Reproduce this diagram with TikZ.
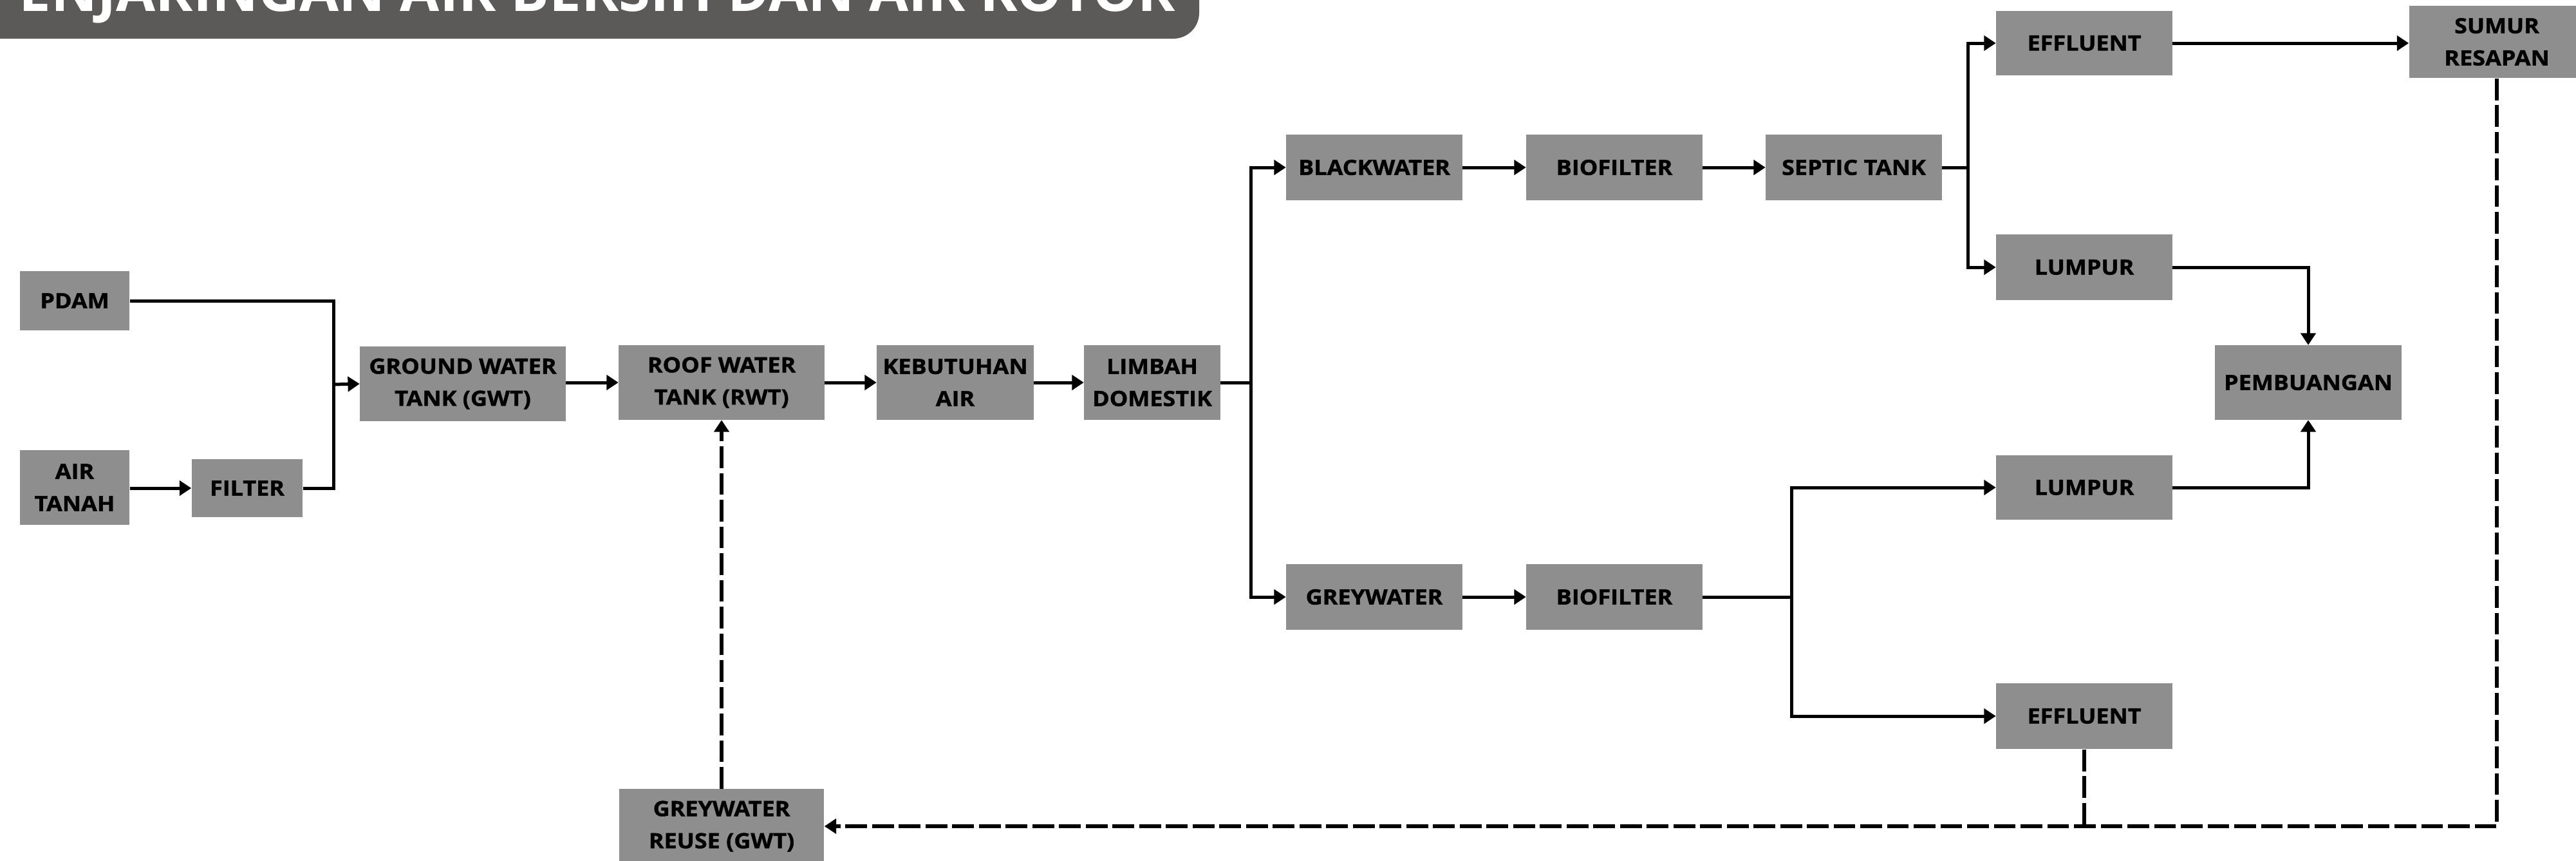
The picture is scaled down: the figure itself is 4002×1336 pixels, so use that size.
\documentclass[tikz,border=0pt]{standalone}
\usepackage{fontspec}
\setmainfont{Open Sans}
\newfontfamily\boxfont{Open Sans}[FakeStretch=1.1,FakeBold=1.3]
\usetikzlibrary{arrows.meta}
\definecolor{boxgray}{RGB}{142,142,142}
\definecolor{bannergray}{RGB}{91,90,88}
\tikzset{
  bx/.style={fill=boxgray, inner sep=0pt, align=center, text=black,
    font={\boxfont\bfseries\fontsize{9.3pt}{14.2pt}\selectfont}},
  ln/.style={line width=1.42pt},
  arr/.style={line width=1.42pt, -{Triangle[length=5.2pt,width=6.5pt]}},
  dsh/.style={line width=1.5pt, dash pattern=on 9.6pt off 2.2pt},
  darr/.style={dsh, -{Triangle[length=5.2pt,width=6.5pt]}}
}
\begin{document}
\begin{tikzpicture}[x=0.01cm,y=-0.01cm]
\useasboundingbox (0,0) rectangle (4002,1336);
\clip (0,0) rectangle (4002,1336);
\fill[white] (0,0) rectangle (4002,1336);
% title banner
\fill[bannergray, rounded corners=0.4cm] (-100,-100) rectangle (1863,60);
\node[anchor=base east, inner sep=0pt, text=white, font={\bfseries\fontsize{25.2pt}{30pt}\selectfont}] (title) at (1827,17) {PENJARINGAN AIR BERSIH DAN AIR KOTOR};
% nodes
\node[bx, minimum width=1.70cm, minimum height=0.91cm] (pdam) at (116,467) {PDAM};
\node[bx, minimum width=1.70cm, minimum height=1.15cm] (airtanah) at (116,757) {AIR\\TANAH};
\node[bx, minimum width=1.72cm, minimum height=0.90cm] (filter) at (384,758) {FILTER};
\node[bx, minimum width=3.19cm, minimum height=1.15cm] (gwt) at (719,596) {GROUND WATER\\TANK (GWT)};
\node[bx, minimum width=3.19cm, minimum height=1.15cm] (rwt) at (1121,594) {ROOF WATER\\TANK (RWT)};
\node[bx, minimum width=2.43cm, minimum height=1.15cm] (keb) at (1484,594) {KEBUTUHAN\\AIR};
\node[bx, minimum width=2.11cm, minimum height=1.15cm] (limbah) at (1790,594) {LIMBAH\\DOMESTIK};
\node[bx, minimum width=2.73cm, minimum height=1.02cm] (black) at (2135,260) {BLACKWATER};
\node[bx, minimum width=2.73cm, minimum height=1.02cm] (bio1) at (2508,260) {BIOFILTER};
\node[bx, minimum width=2.73cm, minimum height=1.02cm] (septic) at (2880,260) {SEPTIC TANK};
\node[bx, minimum width=2.73cm, minimum height=1.00cm] (eff1) at (3238,67) {EFFLUENT};
\node[bx, minimum width=2.73cm, minimum height=1.01cm] (lum1) at (3238,415) {LUMPUR};
\node[bx, minimum width=2.72cm, minimum height=1.12cm] (sumur) at (3879,65) {SUMUR\\RESAPAN};
\node[bx, minimum width=2.90cm, minimum height=1.15cm] (buang) at (3586,594) {PEMBUANGAN};
\node[bx, minimum width=2.73cm, minimum height=1.00cm] (lum2) at (3238,757) {LUMPUR};
\node[bx, minimum width=2.73cm, minimum height=1.01cm] (grey) at (2135,927) {GREYWATER};
\node[bx, minimum width=2.73cm, minimum height=1.01cm] (bio2) at (2508,927) {BIOFILTER};
\node[bx, minimum width=2.73cm, minimum height=1.02cm] (eff2) at (3238,1112) {EFFLUENT};
\node[bx, minimum width=3.18cm, minimum height=1.15cm] (reuse) at (1121,1283) {GREYWATER\\REUSE (GWT)};
% junction coordinates
\coordinate (j1) at (518,597);
\coordinate (j2) at (1943,594);
\coordinate (j3) at (3057,260);
\coordinate (j4) at (2783,927);
\coordinate (d1) at (3879,1283);
\coordinate (d2) at (3238,1283);
% clean water
\draw[ln] (pdam.east) -| (j1);
\draw[ln] (filter.east) -| (j1);
\draw[arr] (j1) -- (gwt.west);
\draw[arr] (airtanah.east |- filter) -- (filter.west);
\draw[arr] (gwt.east |- rwt) -- (rwt.west);
\draw[arr] (rwt.east) -- (keb.west);
\draw[arr] (keb.east) -- (limbah.west);
% waste split
\draw[ln] (limbah.east) -- (j2);
\draw[arr] (j2) |- (black.west);
\draw[arr] (j2) |- (grey.west);
\draw[arr] (black.east) -- (bio1.west);
\draw[arr] (bio1.east) -- (septic.west);
\draw[ln] (septic.east) -- (j3);
\draw[arr] (j3) |- (eff1.west);
\draw[arr] (j3) |- (lum1.west);
\draw[arr] (eff1.east) -- (sumur.west |- eff1);
\draw[arr] (lum1.east) -| (buang.north);
\draw[arr] (grey.east) -- (bio2.west);
\draw[ln] (bio2.east) -- (j4);
\draw[arr] (j4) |- (lum2.west);
\draw[arr] (j4) |- (eff2.west);
\draw[arr] (lum2.east) -| (buang.south);
% reuse loop
\draw[darr] (sumur.south) -- (d1) -- (reuse.east);
\draw[dsh] (eff2.south) -- (d2);
\draw[darr] (reuse.north) -- (rwt.south);
\end{tikzpicture}
\end{document}
